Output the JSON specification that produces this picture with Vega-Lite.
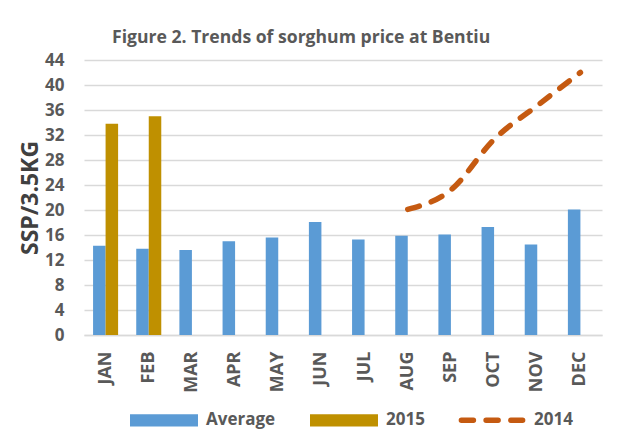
{
  "$schema": "https://vega.github.io/schema/vega-lite/v6.json",
  "width": 518,
  "height": 275,
  "autosize": {"type": "none"},
  "padding": {"left": 84, "top": 60, "right": 27, "bottom": 100},
  "background": "white",
  "title": {
    "text": "Figure 2. Trends of sorghum price at Bentiu",
    "anchor": "start",
    "frame": "group",
    "dx": 28,
    "font": "Open Sans",
    "fontSize": 17.6,
    "fontWeight": "bold",
    "color": "#595959",
    "baseline": "alphabetic",
    "offset": -10
  },
  "data": {
    "values": [
      {"month": "JAN", "series": "Average", "value": 14.3},
      {"month": "FEB", "series": "Average", "value": 13.8},
      {"month": "MAR", "series": "Average", "value": 13.6},
      {"month": "APR", "series": "Average", "value": 15.0},
      {"month": "MAY", "series": "Average", "value": 15.6},
      {"month": "JUN", "series": "Average", "value": 18.1},
      {"month": "JUL", "series": "Average", "value": 15.3},
      {"month": "AUG", "series": "Average", "value": 15.9},
      {"month": "SEP", "series": "Average", "value": 16.1},
      {"month": "OCT", "series": "Average", "value": 17.3},
      {"month": "NOV", "series": "Average", "value": 14.5},
      {"month": "DEC", "series": "Average", "value": 20.1},
      {"month": "JAN", "series": "2015", "value": 33.8},
      {"month": "FEB", "series": "2015", "value": 35.0},
      {"month": "AUG", "series": "2014", "value": 20.1},
      {"month": "SEP", "series": "2014", "value": 23.2},
      {"month": "OCT", "series": "2014", "value": 31.3},
      {"month": "NOV", "series": "2014", "value": 36.7},
      {"month": "DEC", "series": "2014", "value": 42.0}
    ]
  },
  "encoding": {
    "x": {
      "field": "month",
      "type": "nominal",
      "sort": ["JAN", "FEB", "MAR", "APR", "MAY", "JUN", "JUL", "AUG", "SEP", "OCT", "NOV", "DEC"],
      "scale": {"paddingInner": 0.42, "paddingOuter": 0.21},
      "axis": {
        "title": null,
        "labelAngle": -90,
        "labelAlign": "right",
        "labelBaseline": "middle",
        "labelPadding": 16,
        "labelFont": "Open Sans",
        "labelFontSize": 18,
        "labelFontWeight": "bold",
        "labelColor": "#595959",
        "ticks": false,
        "grid": false,
        "domain": true,
        "domainColor": "#D9D9D9",
        "domainWidth": 1.3
      }
    },
    "y": {
      "field": "value",
      "type": "quantitative",
      "scale": {"domain": [0, 44], "nice": false},
      "axis": {
        "values": [0, 4, 8, 12, 16, 20, 24, 28, 32, 36, 40, 44],
        "title": "SSP/3.5KG",
        "titleFont": "Open Sans",
        "titleFontSize": 23,
        "titleFontWeight": "bold",
        "titleColor": "#404040",
        "titlePadding": 2,
        "labelFont": "Open Sans",
        "labelFontSize": 17,
        "labelFontWeight": "bold",
        "labelColor": "#595959",
        "labelPadding": 20,
        "ticks": false,
        "domain": false,
        "grid": true,
        "gridColor": "#D9D9D9",
        "gridWidth": 1.3
      }
    },
    "color": {
      "field": "series",
      "type": "nominal",
      "scale": {"domain": ["Average", "2015", "2014"], "range": ["#5B9BD5", "#BF9000", "#C55A11"]},
      "legend": {
        "title": null,
        "orient": "none",
        "direction": "horizontal",
        "legendX": 43,
        "legendY": 323,
        "padding": 0,
        "columnPadding": 25,
        "labelOffset": 5,
        "labelFont": "Open Sans",
        "labelFontSize": 17,
        "labelFontWeight": "bold",
        "labelColor": "#595959",
        "encode": {
          "symbols": {
            "update": {
              "shape": [
                {"test": "datum.value === '2014'", "value": "M-0.9,-0.096M-0.9,0.096M-0.9,0H0.9"},
                {"value": "M-0.919,-0.096H0.919V0.096H-0.919Z"}
              ],
              "size": {"value": 4624},
              "fill": [
                {"test": "datum.value === '2014'", "value": "transparent"},
                {"test": "datum.value === '2015'", "value": "#BF9000"},
                {"value": "#5B9BD5"}
              ],
              "stroke": [
                {"test": "datum.value === '2014'", "value": "#C55A11"},
                {"test": "datum.value === '2015'", "value": "#BF9000"},
                {"value": "#5B9BD5"}
              ],
              "strokeWidth": {"value": 5.5},
              "strokeDash": [
                {"test": "datum.value === '2014'", "value": [12, 12.7]},
                {"value": [1, 0]}
              ],
              "strokeCap": [
                {"test": "datum.value === '2014'", "value": "round"},
                {"value": "butt"}
              ],
              "strokeJoin": {"value": "miter"},
              "opacity": {"value": 1}
            }
          }
        }
      }
    }
  },
  "layer": [
    {
      "transform": [{"filter": "datum.series !== '2014'"}],
      "mark": {"type": "bar"},
      "encoding": {
        "xOffset": {
          "field": "series",
          "type": "nominal",
          "scale": {"domain": ["Average", "2015"], "paddingInner": 0, "paddingOuter": 0}
        }
      }
    },
    {
      "transform": [{"filter": "datum.series === '2014'"}],
      "mark": {
        "type": "line",
        "strokeWidth": 5.5,
        "strokeDash": [12, 12.7],
        "strokeCap": "round",
        "interpolate": "monotone"
      }
    }
  ],
  "config": {"view": {"stroke": null}}
}
